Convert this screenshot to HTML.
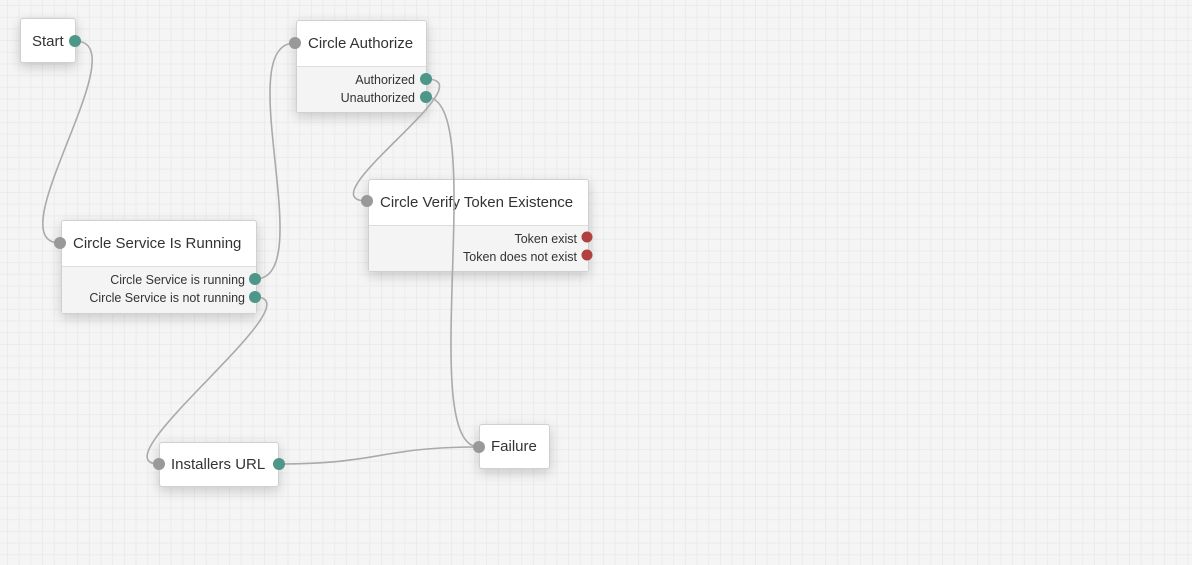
<!DOCTYPE html>
<html><head><style>
body{margin:0;width:1192px;height:565px;overflow:hidden;background:#f5f5f5;font-family:"Liberation Sans",sans-serif;position:relative}
.grid{position:absolute;inset:0;background-image:linear-gradient(to right,#ebebeb 1px,transparent 1px),linear-gradient(to bottom,#ebebeb 1px,transparent 1px);background-size:11.7px 11.7px;background-position:7px 5px}
.node{position:absolute;background:#fff;border:1px solid #d0d0d0;border-radius:3px;box-shadow:0 4px 12px rgba(0,0,0,.18);box-sizing:border-box}
.hd{font-size:15px;color:#333;padding-left:11px;display:flex;align-items:center;box-sizing:border-box}
.bd{background:#f4f4f4;border-top:1px solid #ddd;font-size:12.5px;color:#333;text-align:right;padding-right:11px;box-sizing:border-box;padding-top:4px;line-height:18px}
svg{position:absolute;left:0;top:0}
</style></head><body>
<div class="grid"></div>
<div class="node" style="left:20px;top:18px;width:56px;height:45px"><div class="hd" style="height:45px">Start</div></div>
<div class="node" style="left:296px;top:20px;width:131px;height:93px"><div class="hd" style="height:45px">Circle Authorize</div><div class="bd" style="height:46px">Authorized<br>Unauthorized</div></div>
<div class="node" style="left:368px;top:179px;width:221px;height:93px"><div class="hd" style="height:45px">Circle Verify Token Existence</div><div class="bd" style="height:46px">Token exist<br>Token does not exist</div></div>
<div class="node" style="left:61px;top:220px;width:196px;height:94px"><div class="hd" style="height:45px">Circle Service Is Running</div><div class="bd" style="height:47px">Circle Service is running<br>Circle Service is not running</div></div>
<div class="node" style="left:159px;top:442px;width:120px;height:45px"><div class="hd" style="height:43px">Installers URL</div></div>
<div class="node" style="left:479px;top:424px;width:71px;height:45px"><div class="hd" style="height:43px">Failure</div></div>
<svg width="1192" height="565">
<g fill="none" stroke="#aaa" stroke-width="1.6">
<path d="M75,41 C140,41 -5,243 60,243"/>
<path d="M255,279 C320,279 230,43 295,43"/>
<path d="M426,79 C490,79 303,201 367,201"/>
<path d="M426,97 C490,97 415,447 479,447"/>
<path d="M255,297 C320,297 94,464 159,464"/>
<path d="M279,464 C380,464 380,447 479,447"/>
</g>
<g fill="#999"><circle cx="295" cy="43" r="6"/><circle cx="367" cy="201" r="6"/><circle cx="60" cy="243" r="6"/><circle cx="159" cy="464" r="6"/><circle cx="479" cy="447" r="6"/></g>
<g fill="#4e9688"><circle cx="75" cy="41" r="6"/><circle cx="426" cy="79" r="6"/><circle cx="426" cy="97" r="6"/><circle cx="255" cy="279" r="6"/><circle cx="255" cy="297" r="6"/><circle cx="279" cy="464" r="6"/></g>
<g fill="#b0413e"><circle cx="587" cy="237" r="5.5"/><circle cx="587" cy="255" r="5.5"/></g>
</svg>
</body></html>
